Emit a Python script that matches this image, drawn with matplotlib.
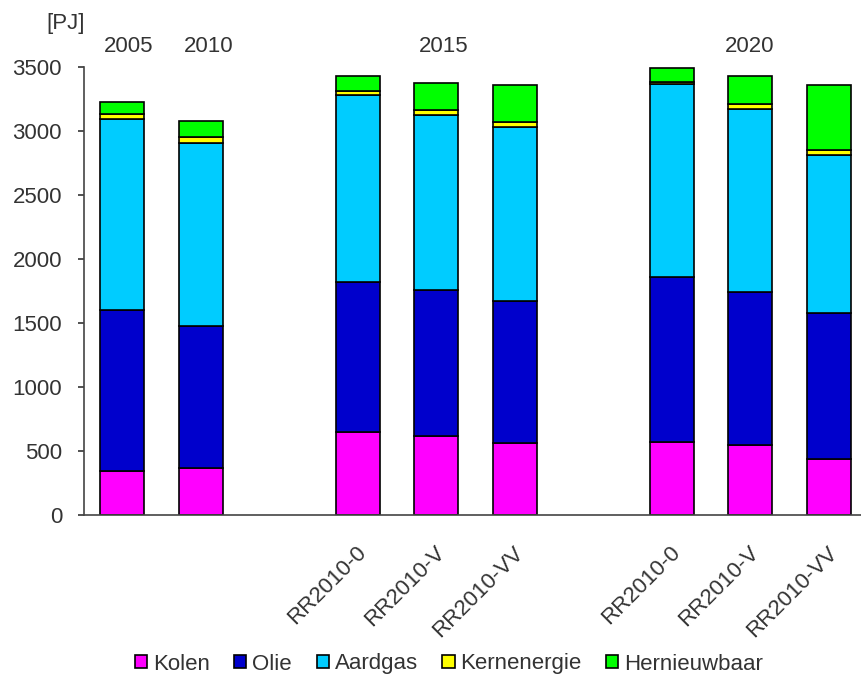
import numpy as np
import matplotlib
matplotlib.use("Agg")
import matplotlib.pyplot as plt
from matplotlib.transforms import ScaledTranslation

plt.rcParams['font.family'] = ['Liberation Sans', 'DejaVu Sans']

# bar slots (gaps between the year groups)
positions = [0, 1, 3, 4, 5, 7, 8, 9]
tick_labels = ['', '', 'RR2010-0', 'RR2010-V', 'RR2010-VV',
               'RR2010-0', 'RR2010-V', 'RR2010-VV']
years = ['2005', '2010', '2015', '2020']
year_x = [0.08, 1.1, 4.09, 7.99]

series = ['Kolen', 'Olie', 'Aardgas', 'Kernenergie', 'Hernieuwbaar']
colors = ['#FF00FF', '#0000CC', '#00CCFF', '#FFFF00', '#00FF00']

kolen = [340, 370, 645, 615, 560, 570, 545, 440]
olie = [1260, 1110, 1175, 1145, 1110, 1290, 1200, 1140]
aardgas = [1495, 1430, 1465, 1365, 1360, 1505, 1425, 1230]
kern = [35, 40, 25, 40, 40, 20, 40, 40]
hern = [100, 130, 120, 210, 290, 105, 220, 510]
values = [kolen, olie, aardgas, kern, hern]

fig = plt.figure(figsize=(8.61, 6.77), dpi=100)
ax = fig.add_axes([0.09756, 0.2393, 0.9024, 0.6617])

txt = '#333333'
bottom = np.zeros(len(positions))
for name, col, vals in zip(series, colors, values):
    ax.bar(positions, vals, width=0.56, bottom=bottom, color=col,
           edgecolor='black', linewidth=1.2, label=name)
    bottom += np.array(vals)

ax.set_ylim(0, 3500)
ax.set_xlim(-0.484, 9.41)
ax.set_yticks(np.arange(0, 3501, 500))
ax.tick_params(axis='y', labelsize=16, colors=txt, length=4.3, width=1.2, pad=11.5)
ax.set_xticks(positions)
ax.set_xticklabels(tick_labels, rotation=45, ha='right', rotation_mode='anchor',
                   fontsize=16, color=txt)
ax.tick_params(axis='x', length=0, pad=19.5)
shift = ScaledTranslation(-2 / 100, 0, fig.dpi_scale_trans)
for lab in ax.get_xticklabels():
    lab.set_transform(lab.get_transform() + shift)
for s in ['top', 'right']:
    ax.spines[s].set_visible(False)
for s in ['left', 'bottom']:
    ax.spines[s].set_color('#444444')
    ax.spines[s].set_linewidth(1.2)

for y, x in zip(years, year_x):
    ax.text(x, 3617, y, ha='center', va='baseline', fontsize=16, color=txt)
fig.text(66 / 861, 1 - 23 / 677, '[PJ]', ha='center', va='center',
         fontsize=16, color=txt)

ax.legend(loc='center', bbox_to_anchor=(449 / 861, 1 - 664 / 677),
          bbox_transform=fig.transFigure, ncol=5, frameon=False, fontsize=16,
          handlelength=0.55, handleheight=0.55, handletextpad=0.27,
          columnspacing=1.1, borderpad=0, labelcolor=txt)

fig.savefig('out.png', dpi=100)
